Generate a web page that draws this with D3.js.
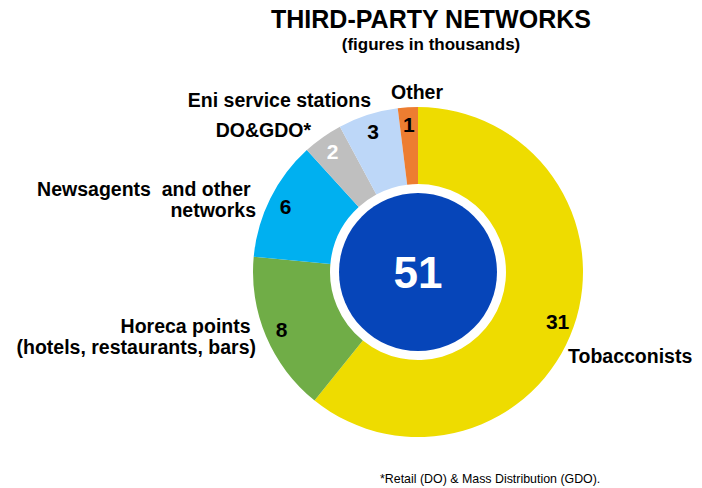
<!DOCTYPE html>
<html>
<head>
<meta charset="utf-8">
<script src="https://cdn.jsdelivr.net/npm/d3@7"></script>
<style>
  body { margin: 0; background: #fff; }
  svg { font-family: "Liberation Sans", Arial, sans-serif; }
</style>
</head>
<body>
<svg width="702" height="488"></svg>
<script>
// data (thousands of points of sale)
var categories = ["Tobacconists", "Horeca points", "Newsagents and other networks", "DO&GDO*", "Eni service stations", "Other"];
var values = [31, 8, 6, 2, 3, 1];
var colors = ["#EEDC00", "#70AD47", "#00B0F0", "#BFBFBF", "#BDD7F8", "#ED7D31"];
var valueColors = ["#000", "#000", "#000", "#fff", "#000", "#000"];
var total = 51;

var svg = d3.select("svg"),
    cx = 418, cy = 272,
    outerR = 165, innerR = 88, coreR = 79,
    g = svg.append("g").attr("transform", "translate(" + cx + "," + cy + ")");

var data = categories.map(function(c, i) { return {name: c, value: values[i], color: colors[i], tc: valueColors[i]}; });

// slices go clockwise from 12 o'clock in the given order
var pie = d3.pie().sort(null).value(function(d) { return d.value; });
var arc = d3.arc().innerRadius(innerR).outerRadius(outerR);
var labelArc = d3.arc().innerRadius(148).outerRadius(148);

var arcs = pie(data);

g.selectAll(".slice")
  .data(arcs)
  .enter()
    .append("path")
    .attr("class", "slice")
    .attr("d", arc)
    .attr("fill", function(d) { return d.data.color; });

// value numbers on the ring
g.selectAll(".val")
  .data(arcs)
  .enter()
    .append("text")
    .attr("class", "val")
    .attr("transform", function(d) { return "translate(" + labelArc.centroid(d) + ")"; })
    .attr("text-anchor", "middle")
    .attr("dy", "0.36em")
    .attr("font-size", 21)
    .attr("font-weight", "bold")
    .attr("fill", function(d) { return d.data.tc; })
    .text(function(d) { return d.data.value; });

// blue core with the total
g.append("circle").attr("r", coreR).attr("fill", "#0645B9");
g.append("text")
  .attr("text-anchor", "middle")
  .attr("dy", "0.36em")
  .attr("font-size", 44)
  .attr("font-weight", "bold")
  .attr("fill", "#fff")
  .text(total);

// titles
svg.append("text").attr("x", 431).attr("y", 28).attr("text-anchor", "middle")
  .attr("font-size", 25).attr("font-weight", "bold").text("THIRD-PARTY NETWORKS");
svg.append("text").attr("x", 431).attr("y", 50).attr("text-anchor", "middle")
  .attr("font-size", 17).attr("font-weight", "bold").text("(figures in thousands)");

// category names outside the ring, one line per entry
var nameLines = [
  {i: 0, lines: ["Tobacconists"], x: 568, y: 363, anchor: "start"},
  {i: 1, lines: ["Horeca points ", "(hotels, restaurants, bars)"], x: 256, y: 333, anchor: "end"},
  {i: 2, lines: ["Newsagents  and other ", "networks"], x: 256, y: 196, anchor: "end"},
  {i: 3, lines: ["DO&GDO*"], x: 311, y: 137, anchor: "end"},
  {i: 4, lines: ["Eni service stations"], x: 371, y: 107, anchor: "end"},
  {i: 5, lines: ["Other"], x: 417, y: 99, anchor: "middle"}
];

nameLines.forEach(function(n) {
  var t = svg.append("text")
    .attr("x", n.x).attr("y", n.y)
    .attr("text-anchor", n.anchor)
    .attr("font-size", 19.5)
    .attr("font-weight", "bold")
    .style("white-space", "pre");
  n.lines.forEach(function(l, k) {
    t.append("tspan").attr("x", n.x).attr("dy", k ? 21 : 0).text(l);
  });
});

// footnote
svg.append("text").attr("x", 380).attr("y", 483)
  .attr("font-size", 12.4).attr("fill", "#000")
  .text("*Retail (DO) & Mass Distribution (GDO).");
</script>
</body>
</html>
